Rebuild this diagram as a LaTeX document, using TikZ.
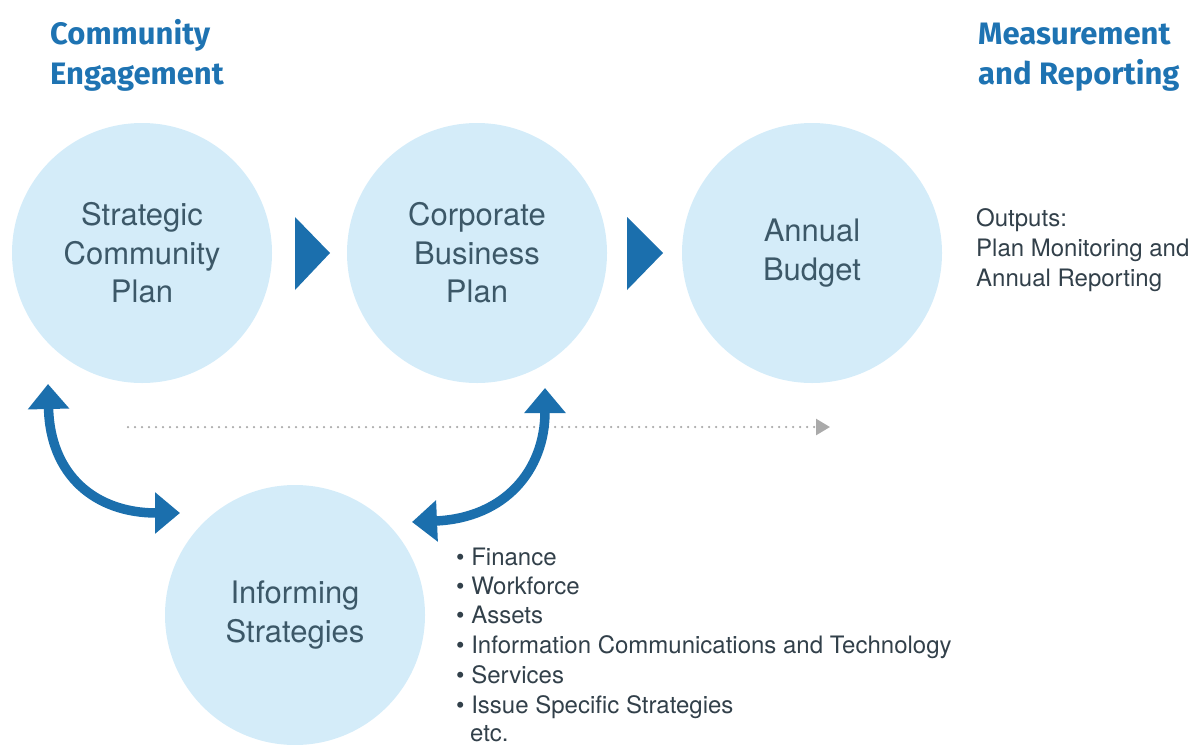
\documentclass[tikz,border=0pt]{standalone}
\usepackage{fontspec}
\setmainfont{TeX Gyre Heros}
\newfontfamily\headfont{Fira Sans}
\usetikzlibrary{arrows.meta}
\definecolor{cfill}{RGB}{212,236,249}
\definecolor{ctext}{RGB}{60,88,104}
\definecolor{headblue}{RGB}{30,115,178}
\definecolor{arrblue}{RGB}{27,111,173}
\definecolor{btext}{RGB}{50,64,74}
\definecolor{dotgray}{RGB}{170,170,170}
\begin{document}
\begin{tikzpicture}[x=1pt,y=-1pt]
\tikzset{
  circ/.style={circle, fill=cfill, minimum size=260pt, inner sep=0pt, text=ctext, align=center,
    font=\fontsize{31}{38.5}\selectfont},
  head/.style={anchor=base west, inner sep=0pt, text=headblue, align=left,
    font=\headfont\bfseries\fontsize{31}{40}\selectfont},
  lst/.style={anchor=base west, inner sep=0pt, text=btext, font=\fontsize{24}{29.5}\selectfont},
  bigarrow/.style={draw=arrblue, line width=9.5pt, {Triangle[width=40pt,length=25pt]}-{Triangle[width=40pt,length=25pt]}},
  tri/.style={fill=arrblue}
}
\useasboundingbox (0,0) rectangle (1198,744);
% circles
\node[circ] (scp) at (142,253) {Strategic\\Community\\Plan};
\node[circ] (cbp) at (477,253) {Corporate\\Business\\Plan};
\node[circ] (ab) at (812,253) {Annual\\Budget};
\node[circ] (is) at (295,615) {Informing\\Strategies};
% headings
\node[head] (ce) at (50,44) {Community};
\node[head] (ce2) at (50,84) {Engagement};
\node[head] (mr) at (978,44) {Measurement};
\node[head] (mr2) at (978,84) {and Reporting};
% outputs
\node[lst] (o1) at (976,226) {Outputs:};
\node[lst] (o2) at (976,256) {Plan Monitoring and};
\node[lst] (o3) at (976,286) {Annual Reporting};
% triangles
\fill[tri] (295,217) -- (330,253) -- (295,290) -- cycle;
\fill[tri] (627,217) -- (663,253) -- (627,290) -- cycle;
% dotted line
\coordinate (d1) at (128,427);
\coordinate (d2) at (830,427);
\draw[dotgray, line width=2.5pt, dash pattern=on 0pt off 7pt, line cap=round, -{Triangle[width=16pt,length=14pt,fill=dotgray]}] (d1) -- (d2);
% curved arrows
\coordinate (la) at (48,384);
\coordinate (lb) at (180,513);
\coordinate (ra) at (545,388);
\coordinate (rb) at (412,522);
\draw[bigarrow] (la) .. controls (50,475) and (95,513) .. (lb);
\draw[bigarrow] (ra) .. controls (545,470) and (505,518) .. (rb);
% bullet list
\node[lst] (b1) at (456,565) {\textbullet\ Finance};
\node[lst] (b2) at (456,594) {\textbullet\ Workforce};
\node[lst] (b3) at (456,623) {\textbullet\ Assets};
\node[lst] (b4) at (456,653) {\textbullet\ Information Communications and Technology};
\node[lst] (b5) at (456,683) {\textbullet\ Services};
\node[lst] (b6) at (456,713) {\textbullet\ Issue Specific Strategies};
\node[lst] (b7) at (470,741) {etc.};
\end{tikzpicture}
\end{document}
